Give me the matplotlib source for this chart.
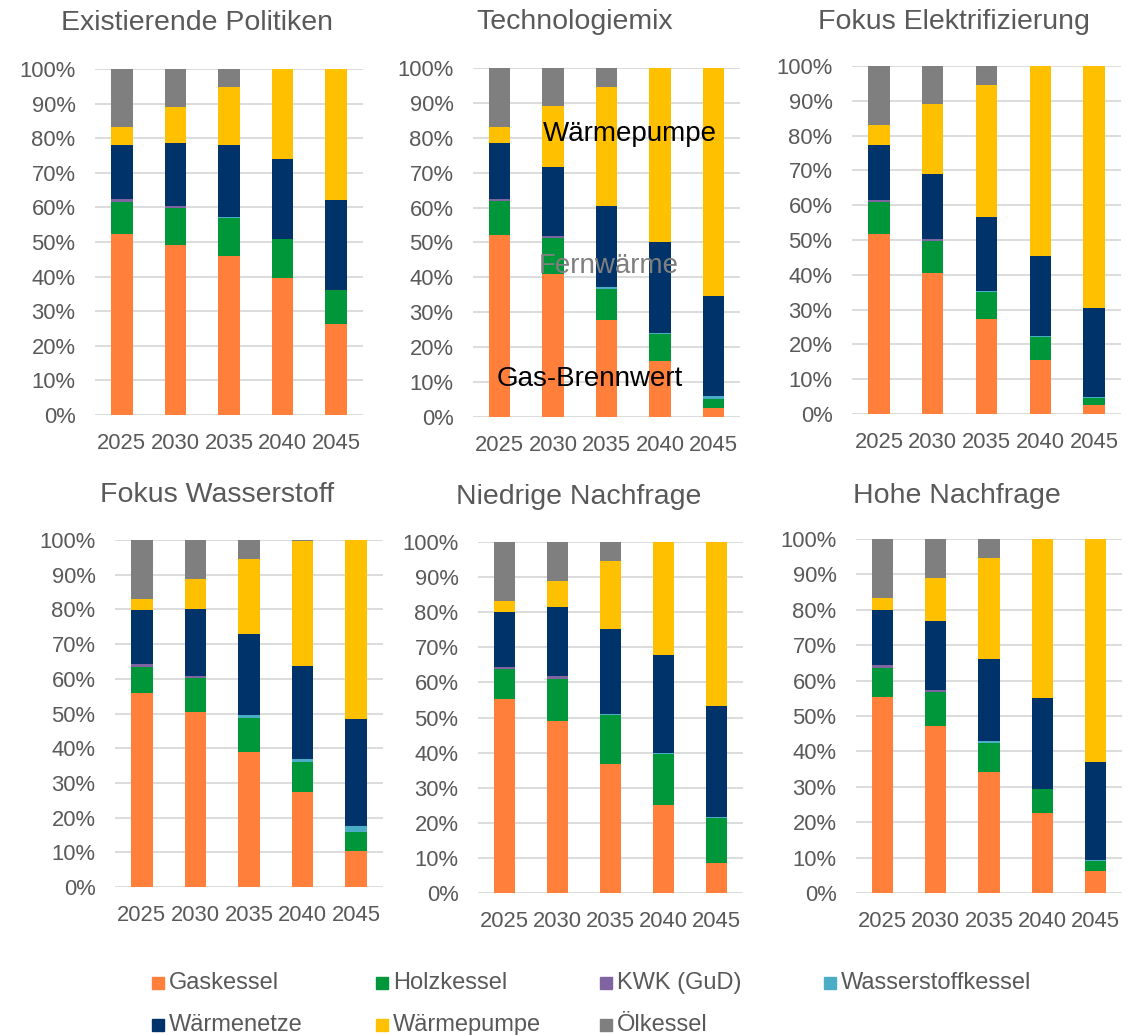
import matplotlib
matplotlib.use("Agg")
import matplotlib.pyplot as plt
import numpy as np
from matplotlib.patches import Rectangle

plt.rcParams['font.family'] = ['Liberation Sans', 'DejaVu Sans']

# DATA
years = ['2025', '2030', '2035', '2040', '2045']
techs = ['Gaskessel', 'Holzkessel', 'KWK (GuD)', 'Wasserstoffkessel',
         'Wärmenetze', 'Wärmepumpe', 'Ölkessel']
colors = ['#FF7F3B', '#00973A', '#8064A2', '#4BACC6',
          '#00336A', '#FFC000', '#7F7F7F']

# shares in % per technology (order as techs), one list per year
existierende_politiken = [
    [52.4, 9.3, 0.7, 0.0, 15.7, 5.2, 16.7],
    [49.2, 10.7, 0.4, 0.0, 18.4, 10.3, 11.0],
    [46.0, 10.9, 0.1, 0.2, 20.8, 16.7, 5.3],
    [39.5, 11.3, 0.0, 0.2, 23.0, 26.0, 0.0],
    [26.2, 9.8, 0.0, 0.2, 25.9, 37.9, 0.0],
]
technologiemix = [
    [52.2, 9.6, 0.7, 0.0, 16.0, 4.6, 16.9],
    [40.9, 10.5, 0.4, 0.0, 19.8, 17.4, 11.0],
    [27.7, 9.0, 0.1, 0.4, 23.3, 34.1, 5.4],
    [16.0, 7.7, 0.0, 0.4, 26.1, 49.8, 0.0],
    [2.7, 2.6, 0.0, 0.6, 28.8, 65.3, 0.0],
]
fokus_elektrifizierung = [
    [51.8, 9.0, 0.8, 0.0, 15.7, 5.8, 16.9],
    [40.5, 9.2, 0.6, 0.0, 18.6, 20.1, 11.0],
    [27.4, 7.8, 0.0, 0.2, 21.1, 38.1, 5.4],
    [15.6, 6.5, 0.0, 0.2, 23.1, 54.6, 0.0],
    [2.7, 1.8, 0.0, 0.5, 25.5, 69.5, 0.0],
]
fokus_wasserstoff = [
    [55.9, 7.6, 0.8, 0.0, 15.5, 3.2, 17.0],
    [50.4, 9.7, 0.6, 0.0, 19.4, 8.7, 11.2],
    [39.0, 9.8, 0.0, 0.7, 23.3, 21.6, 5.6],
    [27.3, 8.6, 0.0, 1.0, 26.9, 35.9, 0.3],
    [10.4, 5.4, 0.0, 1.8, 30.8, 51.6, 0.0],
]
niedrige_nachfrage = [
    [55.4, 8.3, 0.7, 0.0, 15.7, 3.1, 16.8],
    [49.1, 12.0, 0.6, 0.0, 19.9, 7.4, 11.0],
    [36.7, 13.9, 0.0, 0.4, 24.2, 19.4, 5.4],
    [25.0, 14.7, 0.0, 0.1, 28.1, 32.1, 0.0],
    [8.6, 12.9, 0.0, 0.1, 31.7, 46.7, 0.0],
]
hohe_nachfrage = [
    [55.3, 8.4, 0.7, 0.0, 15.6, 3.2, 16.8],
    [47.2, 9.5, 0.7, 0.0, 19.5, 12.1, 11.0],
    [34.2, 8.3, 0.0, 0.3, 23.2, 28.6, 5.4],
    [22.6, 6.8, 0.0, 0.1, 25.6, 44.9, 0.0],
    [6.2, 2.9, 0.0, 0.1, 27.8, 63.0, 0.0],
]

scenarios = ['Existierende Politiken', 'Technologiemix', 'Fokus Elektrifizierung',
             'Fokus Wasserstoff', 'Niedrige Nachfrage', 'Hohe Nachfrage']
scenario_data = [existierende_politiken, technologiemix, fokus_elektrifizierung,
                 fokus_wasserstoff, niedrige_nachfrage, hohe_nachfrage]

# LAYOUT (pixels: left, right, top, bottom of plot area; title centre)
W, H = 1142, 1035
boxes = [(95, 363, 69, 415), (473, 740, 68, 417), (852, 1121, 66, 414),
         (115, 383, 540, 887), (478, 743, 542, 893), (856, 1122, 539, 893)]
title_pos = [(197, 23), (575, 22), (954, 22), (217, 495), (579, 497), (957, 496)]

text_col = '#595959'
grid_col = '#D9D9D9'

fig = plt.figure(figsize=(W / 100, H / 100), dpi=100)

axes = []
for box, tpos, name, data in zip(boxes, title_pos, scenarios, scenario_data):
    l, r, t, b = box
    ax = fig.add_axes([l / W, 1 - b / H, (r - l) / W, (b - t) / H])
    vals = np.array(data).T
    x = np.arange(len(years))
    bottom = np.zeros(len(years))
    for i, tech in enumerate(techs):
        ax.bar(x, vals[i], 0.4, bottom=bottom, color=colors[i], zorder=3, linewidth=0)
        bottom += vals[i]
    ax.set_xlim(-0.5, len(years) - 0.5)
    ax.set_ylim(0, 100)
    ax.set_yticks(np.arange(0, 101, 10))
    ax.set_yticklabels([f'{v}%' for v in range(0, 101, 10)])
    ax.set_xticks(x)
    ax.set_xticklabels(years)
    ax.yaxis.grid(True, color=grid_col, linewidth=1.3, zorder=0)
    ax.set_axisbelow(True)
    for s in ax.spines.values():
        s.set_visible(False)
    ax.tick_params(axis='both', length=0, labelsize=15.8, colors=text_col)
    ax.tick_params(axis='y', pad=14)
    ax.tick_params(axis='x', pad=13)
    fig.text(tpos[0] / W, 1 - tpos[1] / H, name, ha='center', va='center',
             fontsize=20.5, color=text_col)
    axes.append(ax)

# labels inside the Technologiemix chart
ax2 = axes[1]
ax2.text(0.81, 81.0, 'Wärmepumpe', fontsize=20, color='black', va='center', zorder=5)
ax2.text(0.74, 43.4, 'Fernwärme', fontsize=20, color='#7F7F7F', va='center', zorder=5)
ax2.text(-0.05, 11.0, 'Gas-Brennwert', fontsize=20, color='black', va='center', zorder=5)

# legend, row by row, 4 columns
for i, (tech, col) in enumerate(zip(techs, colors)):
    row, c = divmod(i, 4)
    px = 152 + 224 * c
    py = 983 + 42 * row
    fig.add_artist(Rectangle((px / W, 1 - (py + 6) / H), 12 / W, 12 / H,
                             transform=fig.transFigure, color=col))
    fig.text((px + 17) / W, 1 - py / H, tech, ha='left', va='center',
             fontsize=17, color=text_col)

fig.savefig('out.png', dpi=100)
